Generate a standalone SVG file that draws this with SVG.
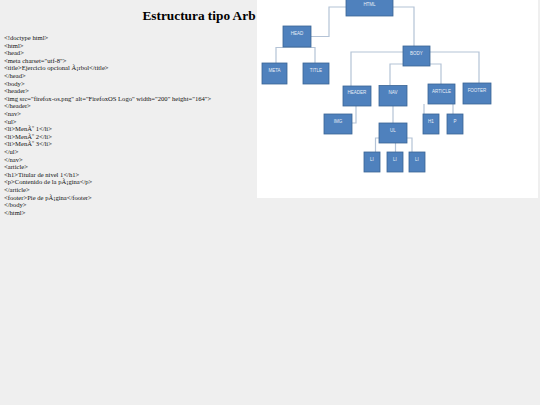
<svg xmlns="http://www.w3.org/2000/svg" width="540" height="405" viewBox="0 0 540 405">
<style>
.code{font-family:"Liberation Serif","Times New Roman",serif;font-size:6.6px;fill:#111}
.title{font-family:"Liberation Serif","Times New Roman",serif;font-size:13.3px;font-weight:bold;fill:#000}
.box{fill:#4f81bd;stroke:#3a6495;stroke-width:0.8}
.lbl{font-family:"Liberation Sans",Arial,sans-serif;font-size:4.5px;fill:#e8eef7;text-anchor:middle;dominant-baseline:central}
.conn{fill:none;stroke:#b4c3d6;stroke-width:1.2}
</style>
<rect width="540" height="405" fill="#efefef"/>
<text class="title" x="142.5" y="20">Estructura tipo Arb</text>
<g class="code">
<text x="4" y="40">&lt;!doctype html&gt;</text>
<text x="4" y="47.6">&lt;html&gt;</text>
<text x="4" y="55.2">&lt;head&gt;</text>
<text x="4" y="62.8">&lt;meta charset="utf-8"&gt;</text>
<text x="4" y="70.4">&lt;title&gt;Ejercicio opcional Ã¡rbol&lt;/title&gt;</text>
<text x="4" y="78">&lt;/head&gt;</text>
<text x="4" y="85.6">&lt;body&gt;</text>
<text x="4" y="93.2">&lt;header&gt;</text>
<text x="4" y="100.8">&lt;img src="firefox-os.png" alt="FirefoxOS Logo" width="200" height="164"&gt;</text>
<text x="4" y="108.4">&lt;/header&gt;</text>
<text x="4" y="116">&lt;nav&gt;</text>
<text x="4" y="123.6">&lt;ul&gt;</text>
<text x="4" y="131.2">&lt;li&gt;MenÃº 1&lt;/li&gt;</text>
<text x="4" y="138.8">&lt;li&gt;MenÃº 2&lt;/li&gt;</text>
<text x="4" y="146.4">&lt;li&gt;MenÃº 3&lt;/li&gt;</text>
<text x="4" y="154">&lt;/ul&gt;</text>
<text x="4" y="161.6">&lt;/nav&gt;</text>
<text x="4" y="169.2">&lt;article&gt;</text>
<text x="4" y="176.8">&lt;h1&gt;Titular de nivel 1&lt;/h1&gt;</text>
<text x="4" y="184.4">&lt;p&gt;Contenido de la pÃ¡gina&lt;/p&gt;</text>
<text x="4" y="192">&lt;/article&gt;</text>
<text x="4" y="199.6">&lt;footer&gt;Pie de pÃ¡gina&lt;/footer&gt;</text>
<text x="4" y="207.2">&lt;/body&gt;</text>
<text x="4" y="214.8">&lt;/html&gt;</text>
</g>
<rect x="257" y="0" width="281" height="198" fill="#ffffff"/>
<g id="connectors">
<path class="conn" d="M346 7H329V36.5H311"/>
<path class="conn" d="M393 7H414V46"/>
<path class="conn" d="M276 63V47.5H315V63"/>
<path class="conn" d="M403 52H351V86"/>
<path class="conn" d="M403 64H390V85"/>
<path class="conn" d="M430 64H441V84"/>
<path class="conn" d="M430 52H479V83"/>
<path class="conn" d="M356 106V123H352"/>
<path class="conn" d="M393 106V123"/>
<path class="conn" d="M424 104V114"/>
<path class="conn" d="M453 104V114"/>
<path class="conn" d="M379 138H375.5V152"/>
<path class="conn" d="M395.5 143V152"/>
<path class="conn" d="M407 138H412V152"/>
</g>
<g id="html"><rect class="box" x="346" y="-4" width="47" height="20"/><text class="lbl" x="369.5" y="4">HTML</text></g>
<g id="head"><rect class="box" x="283" y="26" width="28" height="21"/><text class="lbl" x="297" y="33">HEAD</text></g>
<g id="meta"><rect class="box" x="262" y="63" width="25" height="21"/><text class="lbl" x="274.5" y="70.5">META</text></g>
<g id="title"><rect class="box" x="303" y="63" width="26" height="21"/><text class="lbl" x="316" y="70.5">TITLE</text></g>
<g id="body"><rect class="box" x="403" y="46" width="27" height="20"/><text class="lbl" x="416.5" y="53">BODY</text></g>
<g id="header"><rect class="box" x="343" y="86" width="28" height="20"/><text class="lbl" x="357" y="92.5">HEADER</text></g>
<g id="nav"><rect class="box" x="379" y="85.5" width="28" height="20.5"/><text class="lbl" x="393" y="92.5">NAV</text></g>
<g id="article"><rect class="box" x="428" y="84" width="27" height="20"/><text class="lbl" x="441.5" y="91">ARTICLE</text></g>
<g id="footer"><rect class="box" x="463" y="83" width="28" height="21"/><text class="lbl" x="477" y="90">FOOTER</text></g>
<g id="img"><rect class="box" x="324" y="114" width="28" height="20"/><text class="lbl" x="338" y="121">IMG</text></g>
<g id="ul"><rect class="box" x="379" y="123" width="28" height="20"/><text class="lbl" x="393" y="130">UL</text></g>
<g id="h1"><rect class="box" x="423" y="114" width="16" height="20"/><text class="lbl" x="431" y="121">H1</text></g>
<g id="p"><rect class="box" x="447" y="114" width="16" height="20"/><text class="lbl" x="455" y="121">P</text></g>
<g id="li1"><rect class="box" x="364" y="152" width="16" height="20"/><text class="lbl" x="372" y="159">LI</text></g>
<g id="li2"><rect class="box" x="387" y="152" width="16" height="20"/><text class="lbl" x="395" y="159">LI</text></g>
<g id="li3"><rect class="box" x="409" y="152" width="16" height="20"/><text class="lbl" x="417" y="159">LI</text></g>
</svg>
